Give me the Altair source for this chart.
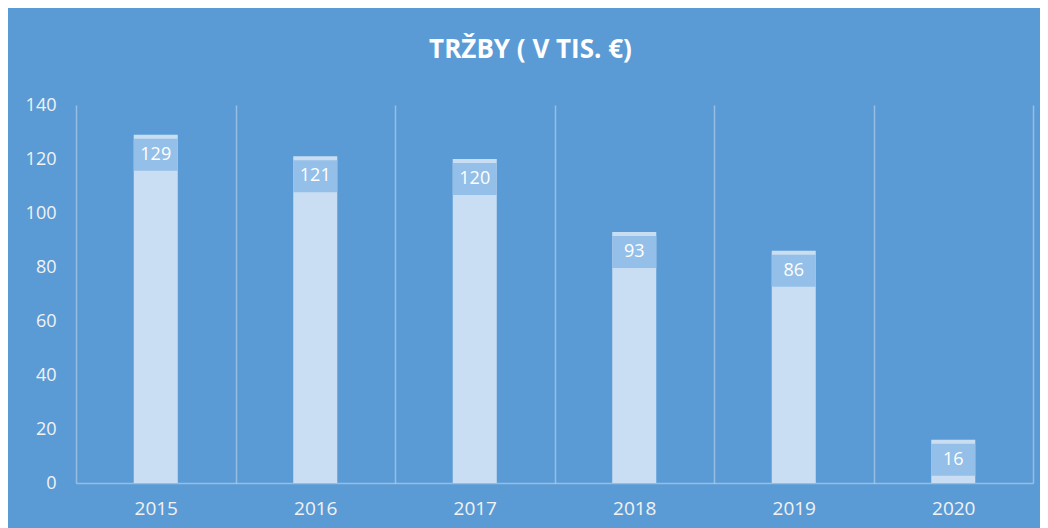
import altair as alt
import pandas as pd

years = ["2015", "2016", "2017", "2018", "2019", "2020"]
values = [129, 121, 120, 93, 86, 16]
y_ticks = [0, 20, 40, 60, 80, 100, 120, 140]
title_text = "TRŽBY ( V TIS. €)"

df = pd.DataFrame({"year": years, "value": values})

BG = "#5B9BD5"
FONT = "Open Sans"
W, H = 957, 378

x = alt.X(
    "year:N", title=None, sort=None,
    scale=alt.Scale(paddingInner=0, paddingOuter=0),
    axis=alt.Axis(
        labelAngle=0, tickBand="extent", grid=True, gridColor="white",
        gridOpacity=0.35, gridWidth=1.5, ticks=False, domain=True,
        domainColor="white", domainOpacity=0.35, domainWidth=1.5,
        labelColor="#F2F2F2", labelFont=FONT, labelFontSize=19,
        labelPadding=16,
    ),
)
y = alt.Y(
    "value:Q", title=None,
    scale=alt.Scale(domain=[0, 140], nice=False),
    axis=alt.Axis(
        values=y_ticks, grid=False, domain=False, ticks=False,
        labelPadding=20, labelColor="#F2F2F2", labelFont=FONT,
        labelFontSize=18,
    ),
)

base = alt.Chart(df).encode(x=x, y=y)

bars = base.mark_bar(color="#C9DEF2", width=alt.RelativeBandSize(0.276))
box = base.mark_point(
    shape="M-1,-0.727L1,-0.727L1,0.727L-1,0.727Z", size=1936, filled=True,
    fill="#94BFE8", opacity=1, strokeWidth=0, yOffset=20,
)
labels = base.mark_text(
    color="white", font=FONT, fontSize=18, dy=20, baseline="middle"
).encode(text="value:Q")

chart = alt.layer(bars, box, labels).properties(
    width=W, height=H,
    title=alt.Title(
        title_text, color="white", font=FONT, fontSize=26,
        fontWeight="bold", anchor="middle", baseline="alphabetic",
        offset=12, dx=-24,
    ),
    autosize=alt.AutoSizeParams(type="none"),
    padding={"left": 68, "top": 97, "right": 7, "bottom": 45},
    background=BG,
).configure_view(stroke=None)

chart.save("out.html", embed_options={"renderer": "svg", "actions": False})
